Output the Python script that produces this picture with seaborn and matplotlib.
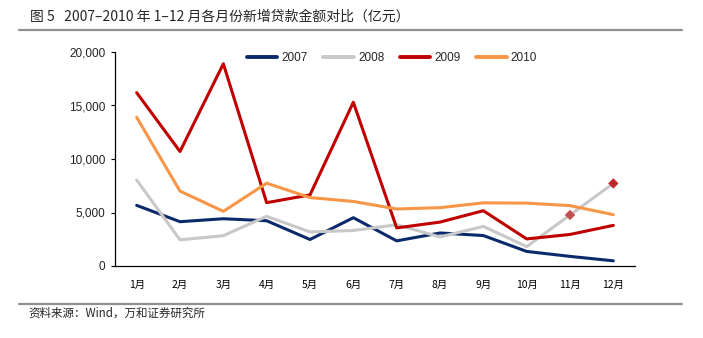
import matplotlib
matplotlib.use("Agg")
import matplotlib.pyplot as plt
import seaborn as sns
import pandas as pd
from matplotlib.lines import Line2D

months = ["1月", "2月", "3月", "4月", "5月", "6月", "7月", "8月", "9月", "10月", "11月", "12月"]
y2007 = [5668, 4140, 4417, 4229, 2478, 4515, 2349, 3086, 2846, 1362, 899, 485]
y2008 = [8034, 2443, 2834, 4642, 3185, 3318, 3858, 2715, 3702, 1815, 4769, 7717]
y2009 = [16200, 10700, 18900, 5918, 6645, 15304, 3559, 4104, 5167, 2530, 2949, 3798]
y2010 = [13900, 7000, 5107, 7740, 6394, 6034, 5328, 5452, 5900, 5877, 5640, 4800]
years = ["2007", "2008", "2009", "2010"]
highlight_months = ["11月", "12月"]
highlight_vals = [4769, 7717]

colors = {"2007": "#0b2a6b", "2008": "#c8c8c8", "2009": "#c00000", "2010": "#f79646"}

sns.set_theme(style="white")
plt.rcParams["font.family"] = ["Liberation Sans", "Noto Sans CJK SC", "DejaVu Sans"]

rows = []
for yr, vals in zip(years, [y2007, y2008, y2009, y2010]):
    for i, (m, v) in enumerate(zip(months, vals)):
        rows.append({"pos": i, "month": m, "year": yr, "value": v})
df = pd.DataFrame(rows)

fig = plt.figure(figsize=(7.03, 3.38), dpi=100)
ax = fig.add_axes([115/703, 1-266/338, 520/703, (266-52)/338])

sns.lineplot(data=df, x="pos", y="value", hue="year", palette=colors, linewidth=2.2,
             ax=ax, legend=False, sort=False)

hx = [months.index(m) for m in highlight_months]
ax.scatter(hx, highlight_vals, marker="D", s=28, c=["#c0504d", "#c0282a"], zorder=5, linewidths=0)

ax.set_xlim(-0.5, 11.5)
ax.set_ylim(0, 20000)
ax.set_xticks(range(12))
ax.set_xticklabels(months, family=["Noto Sans CJK SC"], fontsize=7.5, color="#000000")
ax.set_xticks([i - 0.5 for i in range(13)], minor=True)
ax.tick_params(axis="x", which="major", length=0, pad=10)
ax.tick_params(axis="x", which="minor", length=4, width=0.8, color="black", direction="out")
ax.set_yticks([0, 5000, 10000, 15000, 20000])
ax.set_yticklabels(["0", "5,000", "10,000", "15,000", "20,000"], fontsize=8.5, color="#222222")
ax.tick_params(axis="y", length=3, width=0.8, color="black", direction="out", pad=4, left=True)
ax.set_xlabel("")
ax.set_ylabel("")
for s in ["top", "right"]:
    ax.spines[s].set_visible(False)
for s in ["left", "bottom"]:
    ax.spines[s].set_color("black")
    ax.spines[s].set_linewidth(0.9)

handles = [Line2D([0], [0], color=colors[y], lw=2.8) for y in years]
ax.legend(handles, years, ncol=4, frameon=False, loc="upper left",
          bbox_to_anchor=((236-115)/520, 1.05), handlelength=2.6, handletextpad=0.35,
          columnspacing=1.3, fontsize=8.5)

fig.text(30/703, 1-17/338, "图 5   2007–2010 年 1–12 月各月份新增贷款金额对比（亿元）",
         family=["Noto Sans CJK SC", "DejaVu Sans"], fontsize=10, va="center", ha="left")
fig.add_artist(Line2D([19/703, 682/703], [1-30/338, 1-30/338], color="#909090", lw=1.6))
fig.add_artist(Line2D([19/703, 682/703], [1-304/338, 1-304/338], color="#909090", lw=1.6))
fig.text(28/703, 1-313/338, "资料来源：Wind，万和证券研究所",
         family=["Noto Sans CJK SC", "DejaVu Sans"], fontsize=8.3, va="center", ha="left")

fig.savefig("out.png", dpi=100)
